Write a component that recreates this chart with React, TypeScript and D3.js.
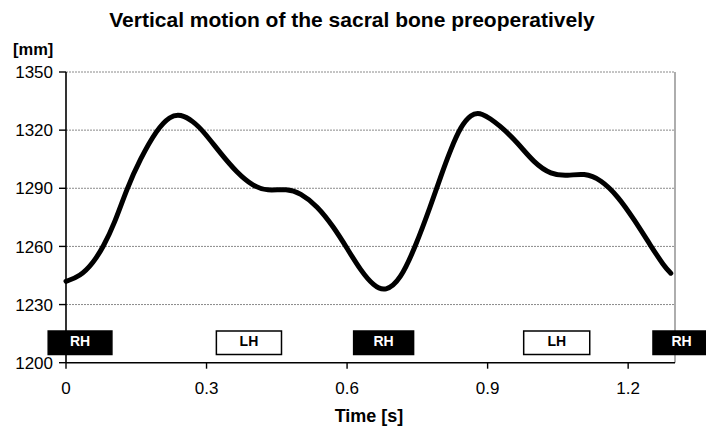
import React from "react";
import * as d3 from "d3";

const timeS = [0, 0.03, 0.058, 0.08, 0.103, 0.13, 0.158, 0.194, 0.222, 0.244, 0.272, 0.294, 0.329, 0.365, 0.4, 0.429, 0.472, 0.5, 0.536, 0.572, 0.6, 0.629, 0.657, 0.682, 0.714, 0.746, 0.778, 0.8, 0.821, 0.843, 0.864, 0.885, 0.928, 0.964, 0.999, 1.035, 1.071, 1.106, 1.142, 1.178, 1.213, 1.249, 1.277, 1.291];
const heightMm = [1242, 1244.5, 1251.4, 1260, 1271.5, 1289.9, 1304.9, 1320.4, 1327.2, 1328.4, 1324.5, 1319.2, 1308.3, 1298, 1291, 1288.6, 1289.8, 1287.6, 1281, 1269.8, 1259, 1247.6, 1239.5, 1236.6, 1242.8, 1260, 1280.7, 1296.2, 1310, 1322.1, 1328, 1329.6, 1322.1, 1313.5, 1303.2, 1297.1, 1296.3, 1297.9, 1294.5, 1285.9, 1273.8, 1260, 1249.7, 1246.2];

const phaseLabels = ["RH", "LH", "RH", "LH", "RH"];
const phaseStart = [-0.038, 0.321, 0.614, 0.977, 1.253];
const phaseEnd = [0.098, 0.46, 0.742, 1.118, 1.375];

const xTicks = [0, 0.3, 0.6, 0.9, 1.2];
const yTicks = [1200, 1230, 1260, 1290, 1320, 1350];

const W = 706;
const H = 426;
const FONT = "'Liberation Sans', Arial, sans-serif";

export default function App() {
  const x = d3.scaleLinear().domain([0, 1.3]).range([66, 675]);
  const y = d3.scaleLinear().domain([1200, 1350]).range([362.7, 72]);

  const line = d3
    .line<number>()
    .x((_, i) => x(timeS[i]))
    .y((d) => y(d))
    .curve(d3.curveBasis);

  const boxTop = 331;
  const boxBottom = 354.5;

  return (
    <svg width={W} height={H} style={{ position: "absolute", left: 0, top: 0, background: "#fff" }} fontFamily={FONT}>
      <rect x={0} y={0} width={W} height={H} fill="#fff" />
      <text x={352} y={27} textAnchor="middle" fontSize={21} fontWeight="bold" fill="#000">
        Vertical motion of the sacral bone preoperatively
      </text>
      <text x={13} y={55} fontSize={16.5} fontWeight="bold" fill="#000">[mm]</text>

      {/* gridlines */}
      {yTicks.filter((t) => t > 1200).map((t) => (
        <line key={t} x1={x(0)} x2={x(1.3)} y1={y(t)} y2={y(t)} stroke="#8a8a8a" strokeWidth={1} strokeDasharray="2,1" />
      ))}
      {/* right border */}
      <line x1={x(1.3)} x2={x(1.3)} y1={y(1350)} y2={y(1200)} stroke="#777" strokeWidth={1.2} />

      {/* axes */}
      <line x1={x(0)} x2={x(0)} y1={y(1350)} y2={y(1200)} stroke="#000" strokeWidth={1.6} />
      <line x1={x(0)} x2={x(1.3)} y1={y(1200)} y2={y(1200)} stroke="#000" strokeWidth={1.6} />
      {yTicks.map((t) => (
        <g key={t}>
          <line x1={x(0) - 7} x2={x(0)} y1={y(t)} y2={y(t)} stroke="#000" strokeWidth={1.4} />
          <text x={53} y={y(t)} dy="0.36em" textAnchor="end" fontSize={17} fill="#000">{t}</text>
        </g>
      ))}
      {xTicks.map((t) => (
        <g key={t}>
          <line x1={x(t)} x2={x(t)} y1={y(1200)} y2={y(1200) + 6} stroke="#000" strokeWidth={1.4} />
          <text x={x(t)} y={394} textAnchor="middle" fontSize={17} fill="#000">{t}</text>
        </g>
      ))}
      <text x={369} y={422} textAnchor="middle" fontSize={18} fontWeight="bold" fill="#000">Time [s]</text>

      {/* phase boxes */}
      {phaseLabels.map((lab, i) => {
        const x0 = x(phaseStart[i]);
        const x1 = x(phaseEnd[i]);
        const dark = lab === "RH";
        return (
          <g key={i}>
            <rect x={x0} y={boxTop} width={x1 - x0} height={boxBottom - boxTop} fill={dark ? "#000" : "#fff"} stroke="#000" strokeWidth={1.5} />
            <text x={(x0 + x1) / 2} y={346} textAnchor="middle" fontSize={14} fontWeight="bold" fill={dark ? "#fff" : "#000"}>{lab}</text>
          </g>
        );
      })}

      {/* curve */}
      <path d={line(heightMm) || ""} fill="none" stroke="#000" strokeWidth={5} strokeLinejoin="round" strokeLinecap="round" />
    </svg>
  );
}
